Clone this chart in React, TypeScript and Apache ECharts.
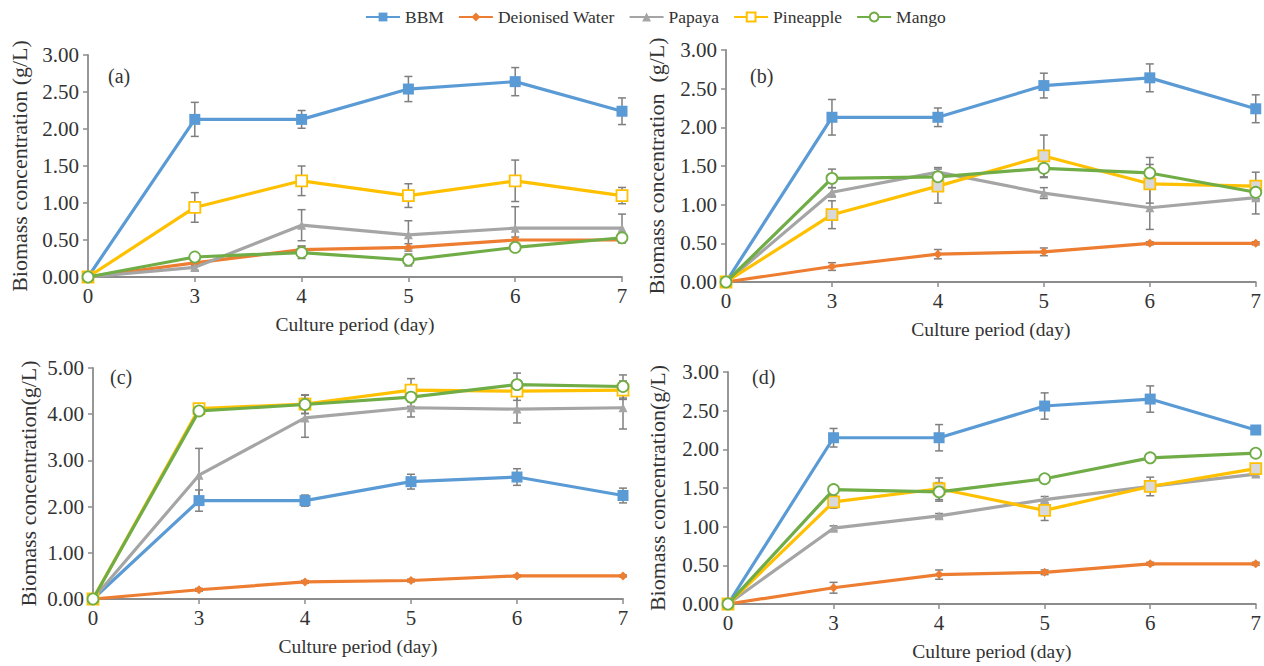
import React, { useEffect, useRef } from "react";
import * as echarts from "echarts";

const days = ["0", "3", "4", "5", "6", "7"];
const seriesNames = ["BBM", "Deionised Water", "Papaya", "Pineapple", "Mango"];
const panelLabels = ["(a)", "(b)", "(c)", "(d)"];
const yNames = [
  "Biomass concentration (g/L)",
  "Biomass concentration  (g/L)",
  "Biomass concentration(g/L)",
  "Biomass concentration(g/L)",
];
const xName = "Culture period (day)";
const yMax = [3, 3, 5, 3];
const yStep = [0.5, 0.5, 1, 0.5];

// Panel (a)
const bbmA = [0, 2.13, 2.13, 2.54, 2.64, 2.24];
const bbmErrA = [0, 0.23, 0.12, 0.17, 0.19, 0.18];
const waterA = [0, 0.19, 0.37, 0.4, 0.5, 0.5];
const waterErrA = [0, 0.04, 0.05, 0.05, 0.04, 0.04];
const papayaA = [0, 0.13, 0.7, 0.57, 0.66, 0.66];
const papayaErrA = [0, 0.04, 0.21, 0.19, 0.29, 0.19];
const pineappleA = [0, 0.94, 1.3, 1.1, 1.3, 1.1];
const pineappleErrA = [0, 0.2, 0.2, 0.16, 0.28, 0.11];
const mangoA = [0, 0.27, 0.33, 0.23, 0.4, 0.53];
const mangoErrA = [0, 0.05, 0.08, 0.08, 0.04, 0.04];

// Panel (b)
const bbmB = [0, 2.13, 2.13, 2.54, 2.64, 2.24];
const bbmErrB = [0, 0.23, 0.12, 0.16, 0.18, 0.18];
const waterB = [0, 0.2, 0.36, 0.39, 0.5, 0.5];
const waterErrB = [0, 0.05, 0.06, 0.05, 0.02, 0.02];
const papayaB = [0, 1.16, 1.42, 1.15, 0.96, 1.09];
const papayaErrB = [0, 0.06, 0.06, 0.07, 0.28, 0.21];
const pineappleB = [0, 0.87, 1.24, 1.63, 1.27, 1.24];
const pineappleErrB = [0, 0.18, 0.22, 0.27, 0.25, 0.18];
const mangoB = [0, 1.34, 1.36, 1.47, 1.41, 1.16];
const mangoErrB = [0, 0.12, 0.06, 0.12, 0.2, 0.08];

// Panel (c)
const bbmC = [0, 2.13, 2.13, 2.54, 2.64, 2.24];
const bbmErrC = [0, 0.23, 0.12, 0.16, 0.18, 0.16];
const waterC = [0, 0.2, 0.37, 0.4, 0.5, 0.5];
const waterErrC = [0, 0.03, 0.03, 0.03, 0.02, 0.02];
const papayaC = [0, 2.68, 3.92, 4.14, 4.11, 4.14];
const papayaErrC = [0, 0.58, 0.42, 0.2, 0.3, 0.46];
const pineappleC = [0, 4.12, 4.22, 4.52, 4.5, 4.52];
const pineappleErrC = [0, 0.05, 0.2, 0.25, 0.2, 0.2];
const mangoC = [0, 4.07, 4.21, 4.37, 4.64, 4.6];
const mangoErrC = [0, 0.05, 0.2, 0.2, 0.25, 0.25];

// Panel (d)
const bbmD = [0, 2.15, 2.15, 2.56, 2.65, 2.25];
const bbmErrD = [0, 0.12, 0.17, 0.17, 0.17, 0.03];
const waterD = [0, 0.21, 0.38, 0.41, 0.52, 0.52];
const waterErrD = [0, 0.07, 0.06, 0.03, 0.02, 0.02];
const papayaD = [0, 0.98, 1.14, 1.35, 1.52, 1.68];
const papayaErrD = [0, 0.03, 0.03, 0.04, 0.03, 0.03];
const pineappleD = [0, 1.32, 1.49, 1.21, 1.52, 1.75];
const pineappleErrD = [0, 0.08, 0.14, 0.13, 0.12, 0.04];
const mangoD = [0, 1.48, 1.45, 1.62, 1.89, 1.95];
const mangoErrD = [0, 0.04, 0.12, 0.05, 0.03, 0.03];

const panels = [
  { values: [bbmA, waterA, papayaA, pineappleA, mangoA], errs: [bbmErrA, waterErrA, papayaErrA, pineappleErrA, mangoErrA] },
  { values: [bbmB, waterB, papayaB, pineappleB, mangoB], errs: [bbmErrB, waterErrB, papayaErrB, pineappleErrB, mangoErrB] },
  { values: [bbmC, waterC, papayaC, pineappleC, mangoC], errs: [bbmErrC, waterErrC, papayaErrC, pineappleErrC, mangoErrC] },
  { values: [bbmD, waterD, papayaD, pineappleD, mangoD], errs: [bbmErrD, waterErrD, papayaErrD, pineappleErrD, mangoErrD] },
];

const FONT = "Liberation Serif";
const TEXT = "#333333";
const colors = ["#5b9bd5", "#ed7d31", "#a5a5a5", "#ffc000", "#70ad47"];
const grids = [
  { left: 88, top: 55, width: 534, height: 222 },
  { left: 726, top: 50, width: 531, height: 232 },
  { left: 93, top: 368, width: 530, height: 231 },
  { left: 728, top: 372, width: 529, height: 232 },
];
const labelPos = [
  [108, 77],
  [750, 77],
  [110, 378],
  [752, 378],
];
const yNameGap = [58, 59, 54, 60];
const pineappleFill = ["#ffffff", "#d9d9d9", "#ffffff", "#d9d9d9"];

function markerFor(si: number, pi: number) {
  const c = colors[si];
  switch (si) {
    case 0:
      return { symbol: "rect", symbolSize: 11, itemStyle: { color: c } };
    case 1:
      return { symbol: "diamond", symbolSize: 9, itemStyle: { color: c } };
    case 2:
      return { symbol: "triangle", symbolSize: 9, itemStyle: { color: c } };
    case 3:
      return { symbol: "rect", symbolSize: 11, itemStyle: { color: pineappleFill[pi], borderColor: c, borderWidth: 1.8 } };
    default:
      return { symbol: "circle", symbolSize: 11, itemStyle: { color: "#ffffff", borderColor: c, borderWidth: 1.8 } };
  }
}

export default function App() {
  const ref = useRef<HTMLDivElement>(null);
  useEffect(() => {
    if (!ref.current) return;
    const chart = echarts.init(ref.current, null, { renderer: "svg" });
    const axisStyle = { lineStyle: { color: "#8c8c8c", width: 1.8 } };
    const xAxis: any[] = [];
    const yAxis: any[] = [];
    const series: any[] = [];
    panels.forEach((p, pi) => {
      xAxis.push({
        type: "category",
        gridIndex: pi,
        data: days,
        boundaryGap: false,
        axisLine: axisStyle,
        axisTick: { show: true, length: 5, lineStyle: { color: "#8c8c8c", width: 1.5 } },
        axisLabel: { fontFamily: FONT, fontSize: 21, color: TEXT, margin: 8 },
        name: xName,
        nameLocation: "middle",
        nameGap: 37,
        nameTextStyle: { fontFamily: FONT, fontSize: 19.5, color: TEXT },
      });
      yAxis.push({
        type: "value",
        gridIndex: pi,
        min: 0,
        max: yMax[pi],
        interval: yStep[pi],
        axisLine: { show: true, ...axisStyle },
        axisTick: { show: true, length: 5, lineStyle: { color: "#8c8c8c", width: 1.5 } },
        splitLine: { show: false },
        axisLabel: {
          fontFamily: FONT,
          fontSize: 21,
          color: TEXT,
          margin: 9,
          formatter: (v: number) => v.toFixed(2),
        },
        name: yNames[pi],
        nameLocation: "middle",
        nameGap: yNameGap[pi],
        nameTextStyle: { fontFamily: FONT, fontSize: 22, color: TEXT },
      });
      p.values.forEach((vals, si) => {
        const errs = p.errs[si];
        const errData = vals
          .map((v, i) => [i, v - errs[i], v + errs[i], errs[i]])
          .filter((d) => d[3] > 0);
        series.push({
          type: "custom",
          xAxisIndex: pi,
          yAxisIndex: pi,
          z: 1,
          silent: true,
          encode: { x: 0, y: [1, 2] },
          data: errData,
          renderItem: (params: any, api: any) => {
            const x = api.value(0);
            const top = api.coord([x, api.value(2)]);
            const bot = api.coord([x, api.value(1)]);
            const hw = 4;
            const style = { stroke: "#7f7f7f", lineWidth: 1.5 };
            return {
              type: "group",
              children: [
                { type: "line", shape: { x1: top[0], y1: top[1], x2: bot[0], y2: bot[1] }, style },
                { type: "line", shape: { x1: top[0] - hw, y1: top[1], x2: top[0] + hw, y2: top[1] }, style },
                { type: "line", shape: { x1: bot[0] - hw, y1: bot[1], x2: bot[0] + hw, y2: bot[1] }, style },
              ],
            };
          },
        });
        series.push({
          type: "line",
          name: seriesNames[si],
          xAxisIndex: pi,
          yAxisIndex: pi,
          z: 2 + si,
          data: vals,
          showSymbol: true,
          showAllSymbol: true,
          lineStyle: { color: colors[si], width: 3.2 },
          ...markerFor(si, pi),
        });
      });
    });

    chart.setOption({
      animation: false,
      backgroundColor: "#ffffff",
      textStyle: { fontFamily: FONT },
      legend: {
        top: 3,
        left: 360,
        data: seriesNames,
        itemWidth: 34,
        itemHeight: 11,
        itemGap: 14,
        textStyle: { fontFamily: FONT, fontSize: 17.5, color: TEXT },
      },
      grid: grids.map((g) => ({ ...g, containLabel: false })),
      xAxis,
      yAxis,
      series,
      graphic: panelLabels.map((t, i) => ({
        type: "text",
        left: labelPos[i][0],
        top: labelPos[i][1] - 11,
        style: { text: t, fontFamily: FONT, fontSize: 20, fill: TEXT },
      })),
    });
    return () => chart.dispose();
  }, []);
  return (
    <div
      ref={ref}
      style={{ position: "absolute", left: 0, top: 0, width: 1264, height: 666 }}
    />
  );
}
